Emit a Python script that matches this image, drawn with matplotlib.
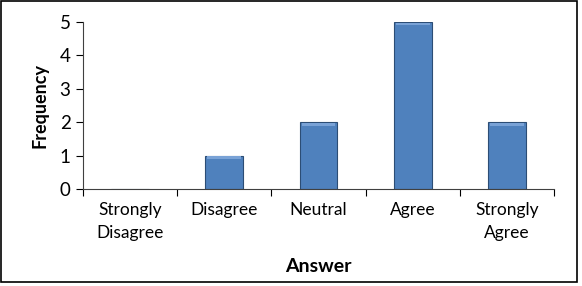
import matplotlib.pyplot as plt
from matplotlib.patches import Rectangle

answers = ['Strongly\nDisagree', 'Disagree', 'Neutral', 'Agree', 'Strongly\nAgree']
frequency = [0, 1, 2, 5, 2]

plt.rcParams['font.family'] = ['Lato', 'DejaVu Sans']

fig = plt.figure(figsize=(5.82, 2.86), dpi=100)
ax = fig.add_axes([0.1426, 0.339, 0.8094, 0.584])

x = range(len(answers))
ax.bar(x, frequency, width=0.4, color='#4F81BD', edgecolor='#2C4D75', linewidth=0.8)
# lighter top bevel
ax.bar(x, [0.08 if f > 0 else 0 for f in frequency], bottom=[f - 0.1 for f in frequency],
       width=0.36, color='#79A2D6', edgecolor='none')

ax.set_xlim(-0.5, 4.5)
ax.set_ylim(0, 5)
ax.set_yticks(range(6))
ax.set_xticks([i - 0.5 for i in range(6)], minor=False)
ax.set_xticklabels([])
ax.set_xticks(list(x), minor=True)
ax.set_xticklabels(answers, minor=True, fontsize=12.5, linespacing=1.6)
ax.tick_params(axis='x', which='minor', length=0, pad=9)
ax.tick_params(axis='x', which='major', length=5, direction='out')
ax.tick_params(axis='y', length=5, direction='out', labelsize=13.5, pad=4)
for s in ['top', 'right']:
    ax.spines[s].set_visible(False)
ax.spines['left'].set_color('#404040')
ax.spines['bottom'].set_color('#404040')

ax.set_xlabel('Answer', fontsize=14, fontweight='bold', labelpad=12)
ax.set_ylabel('Frequency', fontsize=13, fontweight='bold', labelpad=8)

fig.patches.append(Rectangle((0.002, 0.015), 0.99, 0.98, transform=fig.transFigure,
                             fill=False, edgecolor='black', linewidth=1.2))

plt.savefig('out.png', dpi=100)
